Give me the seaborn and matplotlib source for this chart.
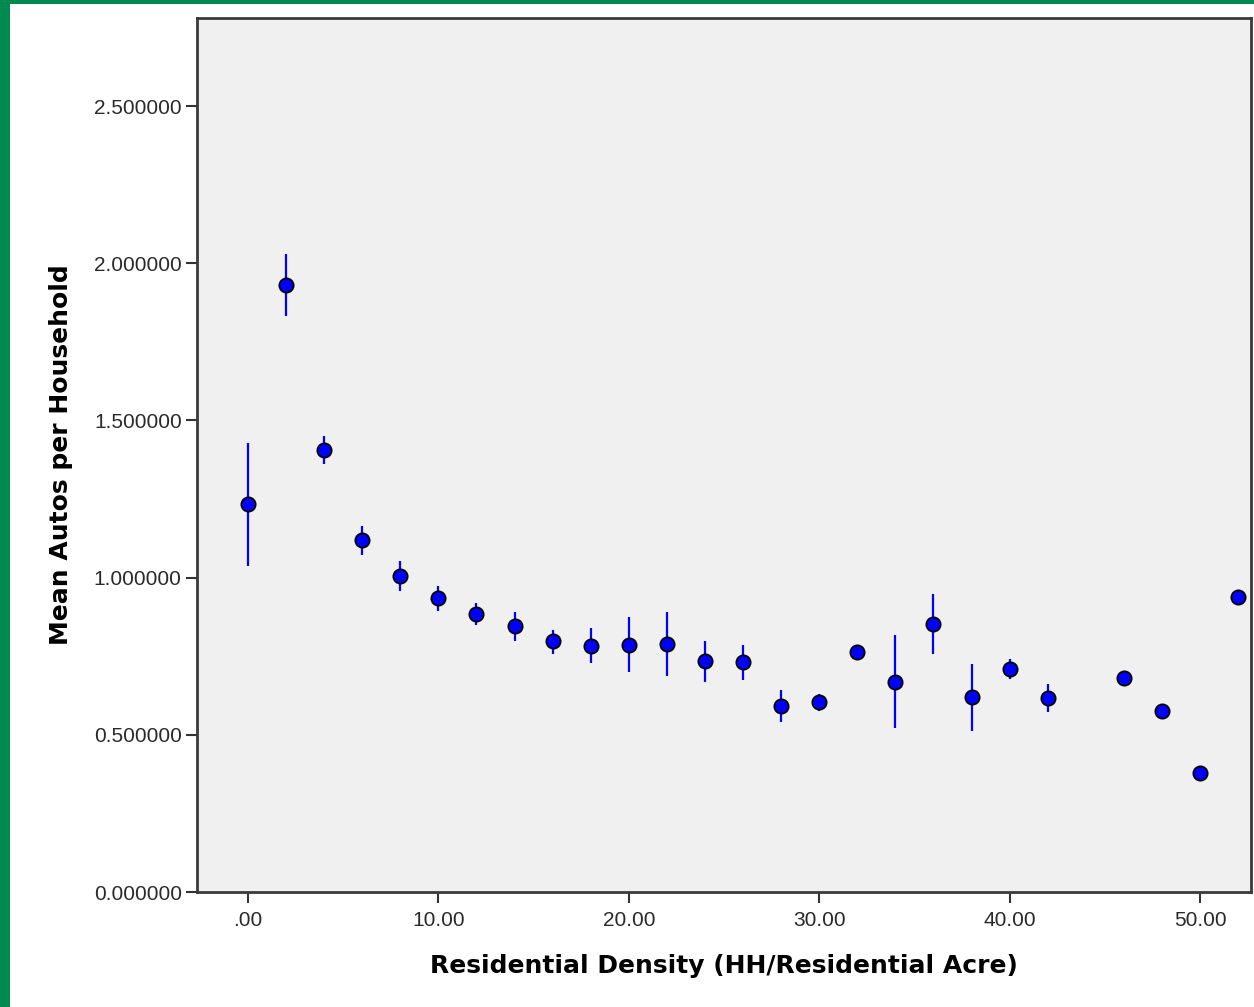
import numpy as np
import pandas as pd
import matplotlib
matplotlib.use("Agg")
import matplotlib.pyplot as plt
import seaborn as sns
from matplotlib.patches import Rectangle

# ==========================================
# Data
# ==========================================

density = [0, 2, 4, 6, 8, 10, 12, 14, 16, 18, 20, 22, 24, 26,
           28, 30, 32, 34, 36, 38, 40, 42, 46, 48, 50, 52]

mean_autos = [1.234, 1.931, 1.406, 1.120, 1.005, 0.935, 0.884, 0.846,
              0.798, 0.782, 0.786, 0.789, 0.735, 0.732, 0.592, 0.604,
              0.763, 0.668, 0.852, 0.620, 0.709, 0.617, 0.681, 0.576,
              0.378, 0.938]

err_low = [1.037, 1.832, 1.361, 1.072, 0.957, 0.894, 0.849, 0.798,
           0.757, 0.728, 0.700, 0.687, 0.668, 0.674, 0.541, 0.576,
           0.763, 0.522, 0.757, 0.512, 0.677, 0.573, 0.681, 0.576,
           0.378, 0.938]

err_high = [1.428, 2.029, 1.450, 1.164, 1.053, 0.973, 0.919, 0.891,
            0.833, 0.840, 0.875, 0.891, 0.798, 0.786, 0.642, 0.630,
            0.763, 0.817, 0.948, 0.725, 0.741, 0.662, 0.681, 0.576,
            0.378, 0.938]

x_ticks = [0, 10, 20, 30, 40, 50]
x_tick_labels = [".00", "10.00", "20.00", "30.00", "40.00", "50.00"]
y_ticks = [0.0, 0.5, 1.0, 1.5, 2.0, 2.5]

df = pd.DataFrame({
    "density": density,
    "mean": mean_autos,
    "low": err_low,
    "high": err_high,
})

# ==========================================
# Style
# ==========================================

sns.set_style("white", {"axes.facecolor": "#f0f0f0"})
plt.rcParams["font.family"] = ["Liberation Sans", "DejaVu Sans"]

fig = plt.figure(figsize=(12.54, 10.07), dpi=100)
fig.patch.set_facecolor("white")

# green frame on the left and top edges of the screenshot
green = "#008a52"
fig.patches.append(Rectangle((0, 0), 10 / 1254, 1, transform=fig.transFigure,
                             facecolor=green, edgecolor="none", zorder=0))
fig.patches.append(Rectangle((0, 1 - 4 / 1007), 1, 4 / 1007, transform=fig.transFigure,
                             facecolor=green, edgecolor="none", zorder=0))

ax = fig.add_axes([197 / 1254, 1 - 892 / 1007, (1251 - 197) / 1254, (892 - 18) / 1007])

# ==========================================
# Plot
# ==========================================

ax.vlines(df["density"], df["low"], df["high"], color="#0000ff", linewidth=1.6, zorder=2)
sns.scatterplot(data=df, x="density", y="mean", ax=ax, s=105, color="#0000ff",
                edgecolor="black", linewidth=1.3, zorder=3, legend=False)

ax.set_xlim(-2.68, 52.68)
ax.set_ylim(0, 2.78)
ax.set_xticks(x_ticks)
ax.set_xticklabels(x_tick_labels)
ax.set_yticks(y_ticks)
ax.set_yticklabels([f"{v:.6f}" for v in y_ticks])

ax.tick_params(axis="both", direction="out", length=8, width=1.5, color="#333333",
               labelsize=15, labelcolor="#2a2a2a", pad=3, bottom=True, left=True)
ax.tick_params(axis="x", pad=6)

for side in ["left", "bottom", "top", "right"]:
    ax.spines[side].set_visible(True)
    ax.spines[side].set_color("#3a3a3a")
    ax.spines[side].set_linewidth(2)

label_font = dict(family="DejaVu Sans", fontweight="bold", fontsize=18, color="black")
ax.set_xlabel("Residential Density (HH/Residential Acre)", labelpad=17, **label_font)
ax.set_ylabel("Mean Autos per Household", labelpad=15, **label_font)

fig.savefig("out.png", dpi=100)
